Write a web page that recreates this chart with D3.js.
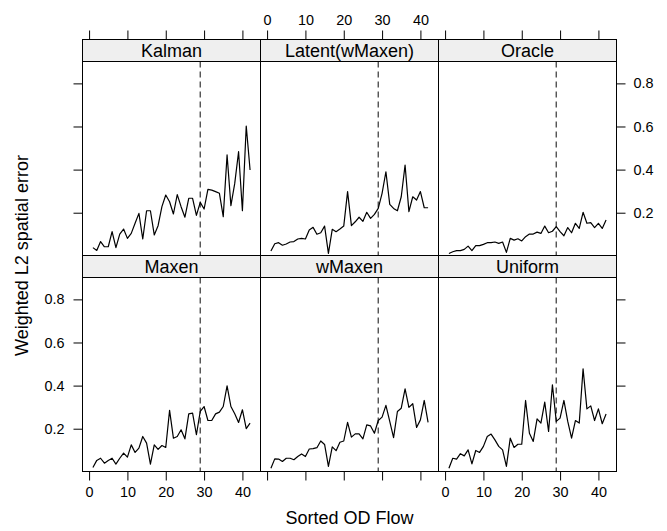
<!DOCTYPE html>
<html>
<head>
<meta charset="utf-8">
<script src="https://d3js.org/d3.v7.min.js"></script>
<style>
  body { margin: 0; background: #fff; }
  svg text { font-family: "Liberation Sans", Arial, Helvetica, sans-serif; fill: #000; }
</style>
</head>
<body>
<div id="chart"></div>
<script>
/* ---- data ---- */
const flowRank = [1,2,3,4,5,6,7,8,9,10,11,12,13,14,15,16,17,18,19,20,21,
                  22,23,24,25,26,27,28,29,30,31,32,33,34,35,36,37,38,39,40,41,42];

const panelNames = ['Kalman', 'Latent(wMaxen)', 'Oracle', 'Maxen', 'wMaxen', 'Uniform'];

const kalman  = [0.038,0.025,0.066,0.042,0.042,0.112,0.038,0.101,0.124,0.081,
                 0.104,0.151,0.197,0.078,0.209,0.209,0.097,0.140,0.228,0.282,
                 0.251,0.194,0.284,0.228,0.179,0.267,0.267,0.188,0.248,0.217,
                 0.308,0.305,0.298,0.290,0.182,0.468,0.233,0.336,0.483,0.209,
                 0.602,0.398];
const latent  = [0.022,0.056,0.061,0.049,0.055,0.064,0.066,0.078,0.081,0.078,
                 0.120,0.132,0.100,0.107,0.138,0.011,0.123,0.112,0.124,0.138,
                 0.298,0.140,0.158,0.179,0.160,0.202,0.174,0.192,0.220,0.290,
                 0.390,0.239,0.220,0.209,0.274,0.421,0.205,0.274,0.259,0.298,
                 0.223,0.223];
const oracle  = [0.011,0.019,0.024,0.024,0.030,0.045,0.024,0.047,0.047,0.053,
                 0.061,0.061,0.064,0.058,0.064,0.016,0.081,0.073,0.079,0.069,
                 0.089,0.101,0.101,0.110,0.104,0.138,0.107,0.114,0.135,0.112,
                 0.093,0.131,0.107,0.151,0.127,0.202,0.151,0.154,0.131,0.151,
                 0.127,0.166];
const maxen   = [0.020,0.053,0.063,0.040,0.053,0.063,0.036,0.063,0.087,0.068,
                 0.125,0.090,0.110,0.164,0.133,0.036,0.125,0.104,0.122,0.113,
                 0.285,0.156,0.164,0.195,0.153,0.269,0.272,0.172,0.280,0.303,
                 0.238,0.238,0.269,0.277,0.303,0.399,0.303,0.269,0.229,0.288,
                 0.200,0.226];
const wmaxen  = [0.017,0.060,0.059,0.048,0.063,0.063,0.056,0.071,0.083,0.071,
                 0.106,0.108,0.112,0.143,0.127,0.025,0.116,0.098,0.137,0.143,
                 0.229,0.161,0.176,0.176,0.153,0.218,0.213,0.179,0.238,0.254,
                 0.308,0.234,0.159,0.280,0.295,0.385,0.299,0.316,0.206,0.241,
                 0.331,0.229];
const uniform = [0.017,0.063,0.059,0.084,0.074,0.102,0.037,0.099,0.090,0.118,
                 0.164,0.175,0.148,0.118,0.102,0.025,0.156,0.113,0.128,0.128,
                 0.331,0.179,0.141,0.246,0.226,0.323,0.187,0.404,0.234,0.249,
                 0.331,0.234,0.156,0.238,0.226,0.478,0.292,0.306,0.238,0.292,
                 0.223,0.268];

const seriesList = [kalman, latent, oracle, maxen, wmaxen, uniform];

const xTicks = [0, 10, 20, 30, 40];
const yTicks = [0.2, 0.4, 0.6, 0.8];
const cutoff = 29;

/* ---- layout ---- */
const W = 667, H = 531;
const LEFT = 82.5, TOP = 39.5;
const PANEL_W = 178, PANEL_H = 194, STRIP_H = 22;
const ROW_H = STRIP_H + PANEL_H;
const TICK = 9;

const svg = d3.select('#chart').append('svg')
  .attr('width', W).attr('height', H);

const x = d3.scaleLinear().domain([-1.72, 44.72]).range([0, PANEL_W]);
const y = d3.scaleLinear().domain([0.0015, 0.9015]).range([PANEL_H, 0]);

const line = d3.line()
  .x((d, i) => x(flowRank[i]))
  .y(d => y(d));

panelNames.forEach((name, k) => {
  const col = k % 3, row = Math.floor(k / 3);
  const px = LEFT + col * PANEL_W;
  const py = TOP + row * ROW_H;

  const g = svg.append('g').attr('transform', `translate(${px},${py})`);

  // strip
  g.append('rect')
    .attr('width', PANEL_W).attr('height', STRIP_H)
    .attr('fill', '#efefef').attr('stroke', '#000').attr('stroke-width', 1);
  g.append('text')
    .attr('x', PANEL_W / 2).attr('y', STRIP_H / 2)
    .attr('dy', '0.36em')
    .attr('text-anchor', 'middle')
    .attr('font-size', 18)
    .text(name);

  const p = g.append('g').attr('transform', `translate(0,${STRIP_H})`);

  // dashed reference line
  p.append('line')
    .attr('x1', x(cutoff)).attr('x2', x(cutoff))
    .attr('y1', 0).attr('y2', PANEL_H)
    .attr('stroke', '#444').attr('stroke-width', 1.3)
    .attr('stroke-dasharray', '6,4');

  p.append('path')
    .datum(seriesList[k])
    .attr('d', line)
    .attr('fill', 'none')
    .attr('stroke', '#000')
    .attr('stroke-width', 1.2)
    .attr('stroke-linejoin', 'round');

  p.append('rect')
    .attr('width', PANEL_W).attr('height', PANEL_H)
    .attr('fill', 'none').attr('stroke', '#000').attr('stroke-width', 1);

  // axes: ticks everywhere on the outer edges, labels alternate
  const fmtX = d3.format('d'), fmtY = d3.format('.1f');
  if (row === 0) {
    const ax = g.append('g').call(
      d3.axisTop(x).tickValues(xTicks).tickSize(TICK).tickPadding(6)
        .tickFormat(col === 1 ? fmtX : ''));
    styleAxis(ax);
  }
  if (row === 1) {
    const ax = p.append('g').attr('transform', `translate(0,${PANEL_H})`).call(
      d3.axisBottom(x).tickValues(xTicks).tickSize(TICK).tickPadding(6)
        .tickFormat(col !== 1 ? fmtX : ''));
    styleAxis(ax);
  }
  if (col === 0) {
    const ax = p.append('g').call(
      d3.axisLeft(y).tickValues(yTicks).tickSize(TICK).tickPadding(9)
        .tickFormat(row === 1 ? fmtY : ''));
    styleAxis(ax);
  }
  if (col === 2) {
    const ax = p.append('g').attr('transform', `translate(${PANEL_W},0)`).call(
      d3.axisRight(y).tickValues(yTicks).tickSize(TICK).tickPadding(8)
        .tickFormat(row === 0 ? fmtY : ''));
    styleAxis(ax);
  }
});

function styleAxis(ax) {
  ax.select('.domain').remove();
  ax.selectAll('line').attr('stroke', '#000');
  ax.selectAll('text')
    .attr('font-size', 14.4)
    .attr('font-family', '"Liberation Sans", Arial, Helvetica, sans-serif')
    .attr('fill', '#000');
}

/* axis titles */
svg.append('text')
  .attr('x', LEFT + 1.5 * PANEL_W).attr('y', 518)
  .attr('dy', '0.36em')
  .attr('text-anchor', 'middle')
  .attr('font-size', 18)
  .text('Sorted OD Flow');

svg.append('text')
  .attr('transform', `translate(22,${TOP + ROW_H}) rotate(-90)`)
  .attr('dy', '0.36em')
  .attr('text-anchor', 'middle')
  .attr('font-size', 18)
  .text('Weighted L2 spatial error');
</script>
</body>
</html>
